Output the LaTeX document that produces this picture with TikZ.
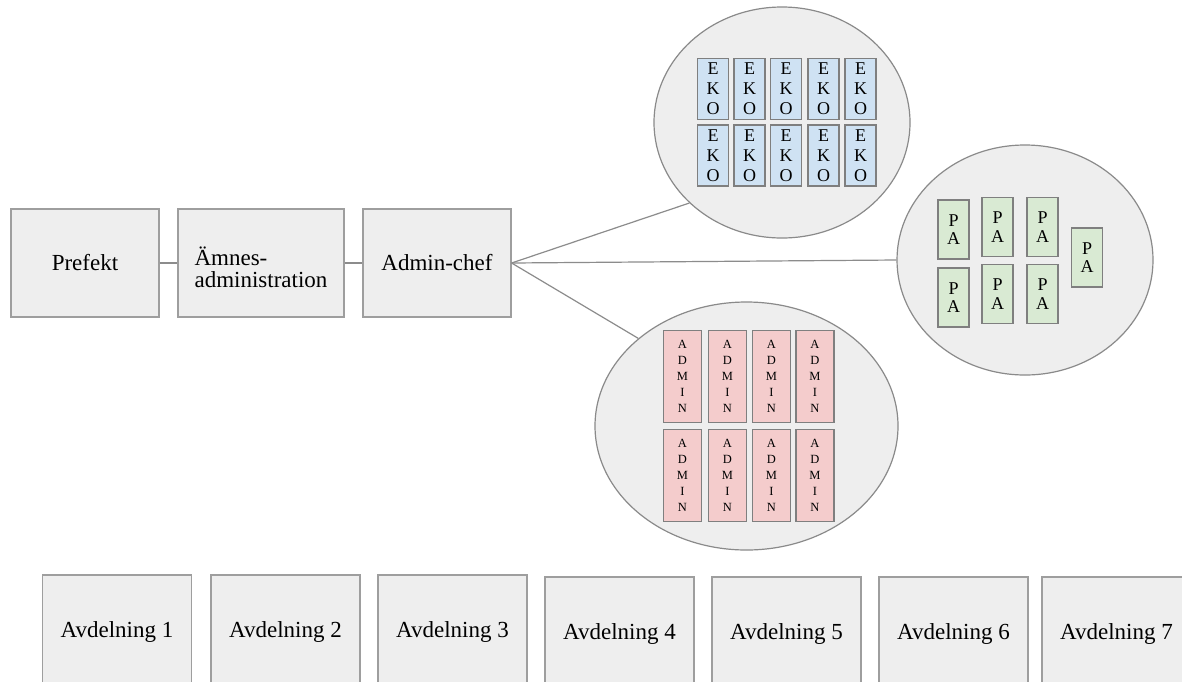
\documentclass[tikz,border=0pt]{standalone}
\usepackage{fontspec}
\setmainfont{Liberation Serif}
\usetikzlibrary{shapes.geometric}
\definecolor{boxfill}{HTML}{EEEEEE}
\definecolor{boxline}{HTML}{9E9E9E}
\definecolor{bubbleline}{HTML}{8A8A8A}
\definecolor{smallline}{HTML}{7F7F7F}
\definecolor{linkcolor}{HTML}{8C8C8C}
\definecolor{ekofill}{HTML}{CFE2F3}
\definecolor{pafill}{HTML}{D9EAD3}
\definecolor{adminfill}{HTML}{F4CCCC}
\begin{document}
\begin{tikzpicture}[x=1pt,y=-1pt,
  gbox/.style={draw=boxline, fill=boxfill, line width=1.2pt, minimum height=108pt, inner sep=0pt, font=\fontsize{23}{26}\selectfont},
  dept/.style={gbox, minimum width=149pt, minimum height=114pt},
  bubble/.style={ellipse, draw=bubbleline, fill=boxfill, line width=1.2pt, inner sep=0pt},
  small/.style={draw=smallline, line width=1.3pt, inner sep=0pt, align=center},
  ekobox/.style={small, fill=ekofill, minimum width=31pt, minimum height=61pt, font=\fontsize{18}{20}\selectfont},
  pabox/.style={small, fill=pafill, minimum width=31pt, minimum height=59pt, font=\fontsize{18}{18.5}\selectfont},
  adminbox/.style={small, fill=adminfill, minimum width=38pt, minimum height=92pt, font=\fontsize{12.5}{16}\selectfont},
  link/.style={draw=linkcolor, line width=1.2pt}]
\clip (0,0) rectangle (1182,681);
\fill[white] (0,0) rectangle (1182,681);

% top row
\node[gbox, minimum width=148pt] (prefekt) at (85,263) {Prefekt};
\node[gbox, minimum width=166pt] (amnes) at (261,263) {};
\node[align=left, inner sep=0pt, font=\fontsize{23}{22}\selectfont] (amnestext) at (261,267.5) {Ämnes-\\administration};
\node[gbox, minimum width=148pt] (chef) at (437,263) {Admin-chef};

% bubbles
\node[bubble, minimum width=256pt, minimum height=231pt] (eko) at (782,122.5) {};
\node[bubble, minimum width=256pt, minimum height=230pt] (pa) at (1025,260) {};
\node[bubble, minimum width=303pt, minimum height=248pt] (admin) at (746.5,426) {};

% connectors
\draw[link] (prefekt) -- (amnes);
\draw[link] (amnes) -- (chef);
\draw[link] (chef.east) -- (eko.221);
\draw[link] (chef.east) -- (pa.180);
\draw[link] (chef.east) -- (admin.141);

% EKO boxes
\foreach \x [count=\i] in {713,749.5,786,823.5,860.5} {
  \node[ekobox] (ekoa\i) at (\x,89) {E\\K\\O};
  \node[ekobox] (ekob\i) at (\x,155.5) {E\\K\\O};
}

% PA boxes
\node[pabox] (pa1) at (953.5,229.5) {P\\A};
\node[pabox] (pa2) at (953.5,297.5) {P\\A};
\node[pabox] (pa3) at (997.5,227) {P\\A};
\node[pabox] (pa4) at (997.5,294) {P\\A};
\node[pabox] (pa5) at (1042.5,227) {P\\A};
\node[pabox] (pa6) at (1042.5,294) {P\\A};
\node[pabox] (pa7) at (1087,257.5) {P\\A};

% ADMIN boxes
\foreach \x [count=\i] in {682.5,727.5,771.5,815} {
  \node[adminbox] (adma\i) at (\x,376.5) {A\\D\\M\\I\\N};
  \node[adminbox] (admb\i) at (\x,475.5) {A\\D\\M\\I\\N};
}

% departments
\node[dept] (avd1) at (117,632) {Avdelning 1};
\node[dept] (avd2) at (285.5,632) {Avdelning 2};
\node[dept] (avd3) at (452.5,632) {Avdelning 3};
\node[dept] (avd4) at (619.5,634) {Avdelning 4};
\node[dept] (avd5) at (786.5,634) {Avdelning 5};
\node[dept] (avd6) at (953.5,634) {Avdelning 6};
\node[dept] (avd7) at (1116.5,634) {Avdelning 7};
\end{tikzpicture}
\end{document}
